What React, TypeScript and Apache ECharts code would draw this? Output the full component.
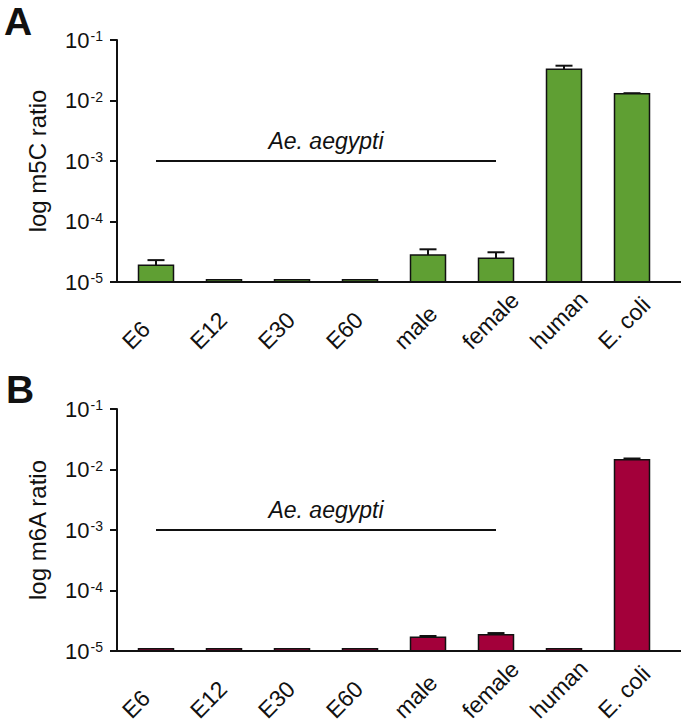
import React, { useEffect, useRef } from "react";
import * as echarts from "echarts";

const categories = ["E6", "E12", "E30", "E60", "male", "female", "human", "E. coli"];
const m5cValues = [1.9e-5, 1.09e-5, 1.09e-5, 1.09e-5, 2.8e-5, 2.47e-5, 0.033, 0.0129];
const m5cErrTop = [2.3e-5, null, null, null, 3.47e-5, 3.1e-5, 0.0376, 0.0132];
const m6aValues = [1.09e-5, 1.09e-5, 1.09e-5, 1.09e-5, 1.68e-5, 1.86e-5, 1.09e-5, 0.0145];
const m6aErrTop = [null, null, null, null, 1.77e-5, 1.98e-5, null, 0.0152];
const yMin = 1e-5;
const yMax = 1e-1;
const groupLabel = "Ae. aegypti";
const groupStart = "E6";
const groupEnd = "female";
const groupLevel = 1e-3;

const FONT = "'Liberation Sans', Arial, Helvetica, sans-serif";
const PLOT_LEFT = 122;
const PLOT_W = 544;
const PLOT_H = 242;
const TOP_A = 40;
const TOP_B = 409;
const LABEL_SHIFT = 30;
const BAR_W = 35;

function errData(values: number[], tops: (number | null)[]) {
  const out: number[][] = [];
  tops.forEach((t, i) => {
    if (t != null) out.push([i, values[i], t]);
  });
  return out;
}

export default function App() {
  const ref = useRef<HTMLDivElement>(null);
  useEffect(() => {
    if (!ref.current) return;
    const chart = echarts.init(ref.current, null, { renderer: "svg" });

    const yAxisFor = (gridIndex: number, name: string) => ({
      type: "log",
      logBase: 10,
      gridIndex,
      min: yMin,
      max: yMax,
      offset: 5,
      name,
      nameLocation: "middle",
      nameGap: 68,
      nameTextStyle: { fontSize: 24, color: "#111", fontFamily: FONT },
      axisLine: { show: true, lineStyle: { color: "#111", width: 2 } },
      axisTick: { show: true, length: 7, lineStyle: { color: "#111", width: 2 } },
      minorTick: { show: false },
      splitLine: { show: false },
      axisLabel: {
        margin: 14,
        showMinLabel: true,
        showMaxLabel: true,
        formatter: (v: number) => `{b|10}{s|${Math.round(Math.log10(v))}}`,
        rich: {
          b: { fontSize: 22, lineHeight: 22, color: "#111", fontFamily: FONT, verticalAlign: "bottom" },
          s: { fontSize: 14, lineHeight: 14, color: "#111", fontFamily: FONT, verticalAlign: "top", padding: [0, 0, 14, 1] },
        },
      },
    });

    const xAxisMain = (gridIndex: number) => ({
      type: "category",
      gridIndex,
      data: categories,
      axisLine: { show: false },
      axisTick: { show: false },
      axisLabel: { show: false },
      splitLine: { show: false },
    });

    const xAxisLabels = (gridIndex: number) => ({
      type: "category",
      gridIndex,
      data: categories,
      axisLine: { show: false },
      axisTick: { show: false },
      splitLine: { show: false },
      axisLabel: {
        interval: 0,
        rotate: 45,
        align: "left",
        verticalAlign: "middle",
        margin: 63,
        fontSize: 23,
        color: "#111",
        fontFamily: FONT,
      },
    });

    const hiddenY = (gridIndex: number) => ({ type: "value", gridIndex, show: false });

    const barSeries = (xi: number, yi: number, data: number[], color: string) => ({
      type: "custom",
      xAxisIndex: xi,
      yAxisIndex: yi,
      data: data.map((v, i) => [i, v]),
      encode: { x: 0, y: 1 },
      z: 2,
      renderItem: (params: any, api: any) => {
        const i = api.value(0);
        const top = api.coord([i, api.value(1)]);
        const base = api.coord([i, yMin]);
        return {
          type: "rect",
          shape: { x: top[0] - BAR_W / 2, y: top[1], width: BAR_W, height: base[1] - top[1] },
          style: { fill: color, stroke: "#111", lineWidth: 1.5 },
        };
      },
      markLine: {
        silent: true,
        symbol: ["none", "none"],
        lineStyle: { color: "#111", width: 2, type: "solid" },
        label: {
          show: true,
          formatter: groupLabel,
          position: "insideMiddleTop",
          distance: 9,
          fontStyle: "italic",
          fontSize: 23,
          color: "#111",
          fontFamily: FONT,
        },
        emphasis: { disabled: true },
        data: [[{ coord: [groupStart, groupLevel] }, { coord: [groupEnd, groupLevel] }]],
      },
    });

    const errSeries = (xi: number, yi: number, data: number[][]) => ({
      type: "custom",
      xAxisIndex: xi,
      yAxisIndex: yi,
      data,
      z: 1,
      encode: { x: 0, y: 1 },
      renderItem: (params: any, api: any) => {
        const i = api.value(0);
        const p0 = api.coord([i, api.value(1)]);
        const p1 = api.coord([i, api.value(2)]);
        return {
          type: "group",
          children: [
            { type: "line", shape: { x1: p0[0], y1: p0[1], x2: p0[0], y2: p1[1] }, style: { stroke: "#111", lineWidth: 2 } },
            { type: "line", shape: { x1: p0[0] - 8.5, y1: p1[1], x2: p0[0] + 8.5, y2: p1[1] }, style: { stroke: "#111", lineWidth: 2 } },
          ],
        };
      },
    });

    const baseLine = (top: number) => ({
      type: "line",
      silent: true,
      z: 10,
      shape: { x1: PLOT_LEFT - 5, y1: top + PLOT_H, x2: 681, y2: top + PLOT_H },
      style: { stroke: "#111", lineWidth: 2 },
    });

    const gridCommon = { width: PLOT_W, height: PLOT_H, containLabel: false, outerBoundsMode: "none" };

    chart.setOption({
      animation: false,
      backgroundColor: "#ffffff",
      textStyle: { fontFamily: FONT },
      grid: [
        { left: PLOT_LEFT, top: TOP_A, ...gridCommon },
        { left: PLOT_LEFT, top: TOP_B, ...gridCommon },
        { left: PLOT_LEFT - LABEL_SHIFT, top: TOP_A, ...gridCommon },
        { left: PLOT_LEFT - LABEL_SHIFT, top: TOP_B, ...gridCommon },
      ],
      xAxis: [xAxisMain(0), xAxisMain(1), xAxisLabels(2), xAxisLabels(3)],
      yAxis: [yAxisFor(0, "log m5C ratio"), yAxisFor(1, "log m6A ratio"), hiddenY(2), hiddenY(3)],
      series: [
        barSeries(0, 0, m5cValues, "#5f9f33"),
        errSeries(0, 0, errData(m5cValues, m5cErrTop)),
        barSeries(1, 1, m6aValues, "#a3003a"),
        errSeries(1, 1, errData(m6aValues, m6aErrTop)),
      ],
      graphic: [
        baseLine(TOP_A),
        baseLine(TOP_B),
        {
          type: "text",
          left: 4,
          top: 2,
          style: { text: "A", fontSize: 39, fontWeight: "bold", fill: "#111", fontFamily: FONT },
        },
        {
          type: "text",
          left: 6,
          top: 370,
          style: { text: "B", fontSize: 39, fontWeight: "bold", fill: "#111", fontFamily: FONT },
        },
      ],
    });
    return () => chart.dispose();
  }, []);

  return (
    <div
      ref={ref}
      style={{ position: "fixed", left: 0, top: 0, width: 685, height: 725, background: "#fff" }}
    />
  );
}
